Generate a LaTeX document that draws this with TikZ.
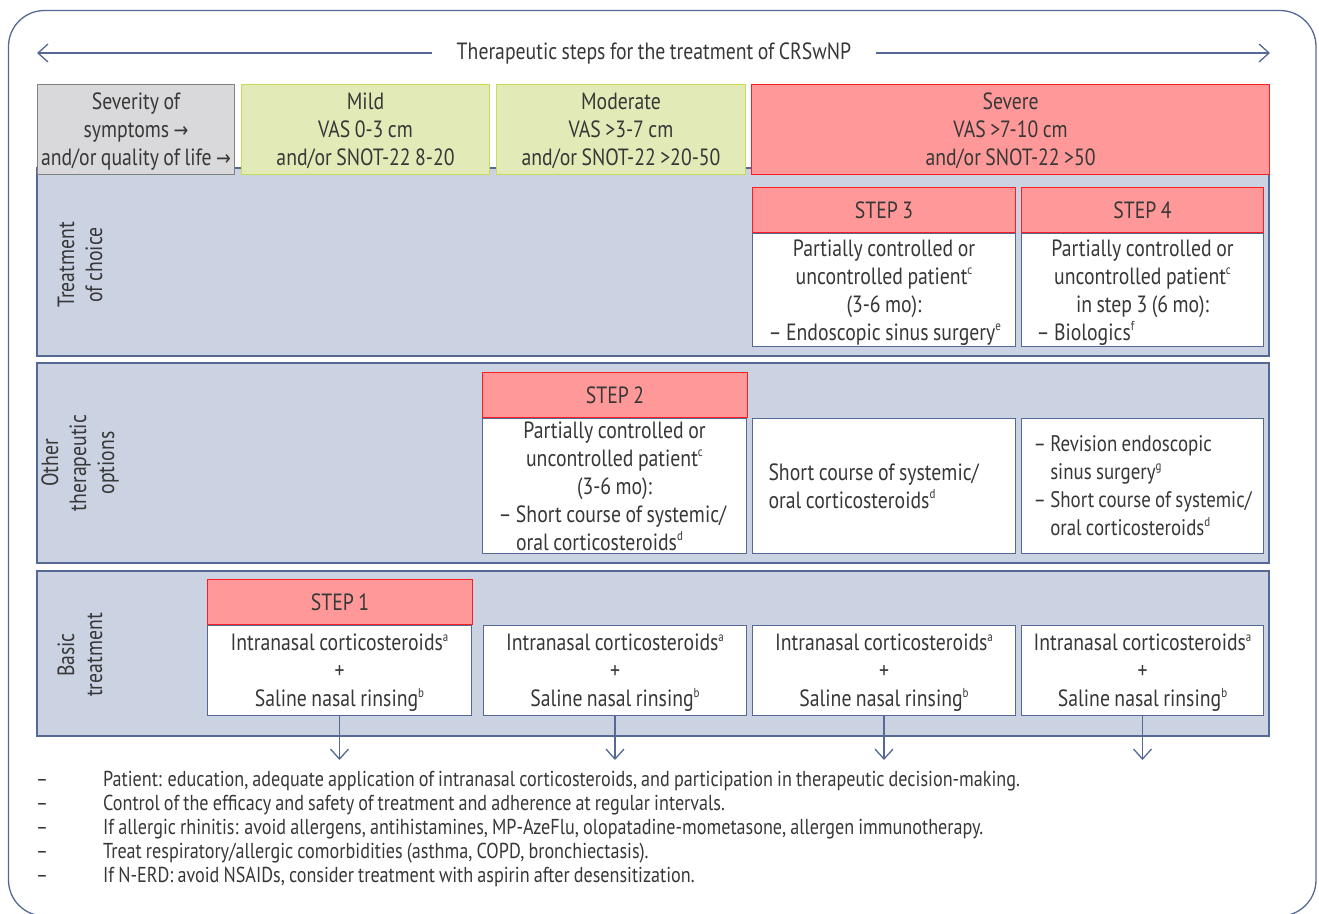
\documentclass[tikz,border=0pt]{standalone}
\usepackage{fontspec}
\setmainfont{PT Sans}[FakeStretch=0.84, WordSpace=0.85]
\newfontfamily\symfont{DejaVu Sans}[FakeStretch=0.84]
\usetikzlibrary{arrows.meta}

\definecolor{frameblue}{RGB}{86,105,148}
\definecolor{panelblue}{RGB}{203,210,225}
\definecolor{sevgray}{RGB}{217,217,219}
\definecolor{sevline}{RGB}{128,128,128}
\definecolor{mildfill}{RGB}{226,235,183}
\definecolor{mildline}{RGB}{200,220,90}
\definecolor{stepfill}{RGB}{255,153,153}
\definecolor{stepline}{RGB}{250,30,35}
\definecolor{txtgray}{RGB}{55,55,55}

\newcommand{\sps}[1]{\raisebox{.8ex}{\fontsize{13}{13}\selectfont #1}}
\newcommand{\rarr}{{\symfont\fontsize{21}{21}\selectfont →}}

\tikzset{
  base/.style={font=\fontsize{23.5}{28}\selectfont, text=txtgray},
  panel/.style={draw=frameblue, fill=panelblue, line width=1.2pt},
  hbox/.style={base, anchor=north west, inner sep=0pt, align=center, line width=1pt, text depth=0pt},
  stephead/.style={base, anchor=north west, inner sep=0pt, draw=stepline, fill=stepfill,
    line width=1.2pt, minimum height=45pt},
  bodybox/.style={base, anchor=north west, inner sep=0pt, draw=frameblue, fill=white,
    line width=1pt, text depth=0pt},
  arr/.style={draw=frameblue, line width=1.3pt, -{Straight Barb[length=10pt,width=18pt]}},
}

\begin{document}
\begin{tikzpicture}[x=1pt,y=-1pt]
  \useasboundingbox (0,0) rectangle (1319,913);
  % frame and title
  \draw[frameblue, line width=1.3pt, rounded corners=36pt] (8.5,10.5) rectangle (1316,916);
  \node[base, inner xsep=25pt] (title) at (654,53) {Therapeutic steps for the treatment of CRSwNP};
  \coordinate (tl) at (37,53);
  \coordinate (tr) at (1270,53);
  \draw[arr] (title.west) -- (tl);
  \draw[arr] (title.east) -- (tr);

  % the three bands
  \draw[panel] (37,168) rectangle (1269,356);
  \draw[panel] (37,363) rectangle (1269,563);
  \draw[panel] (37,571) rectangle (1269,736);
  \node[base, rotate=90, align=center] (choice) at (80,265) {Treatment\\of choice};
  \node[base, rotate=90, align=center] (other) at (80,463) {Other\\therapeutic\\options};
  \node[base, rotate=90, align=center] (basic) at (80,655) {Basic\\treatment};

  % severity row
  \node[hbox, draw=sevline, fill=sevgray, minimum width=197pt, minimum height=90pt] (sev) at (37,84)
    {Severity of\\symptoms \rarr\\and/or quality of life \rarr};
  \node[hbox, draw=mildline, fill=mildfill, minimum width=248pt, minimum height=90pt] (mild) at (241,84)
    {Mild\\VAS 0-3 cm\\and/or SNOT-22 8-20};
  \node[hbox, draw=mildline, fill=mildfill, minimum width=249pt, minimum height=90pt] (moderate) at (496,84)
    {Moderate\\VAS >3-7 cm\\and/or SNOT-22 >20-50};
  \node[hbox, draw=stepline, fill=stepfill, line width=1.2pt, minimum width=518pt, minimum height=90pt] (severe) at (751,84)
    {Severe\\VAS >7-10 cm\\and/or SNOT-22 >50};

  % treatment of choice
  \node[stephead, minimum width=263pt] (s3head) at (752,187) {STEP 3};
  \node[stephead, minimum width=242pt] (s4head) at (1021,187) {STEP 4};
  \node[bodybox, minimum width=263pt, minimum height=113pt, align=center] (s3body) at (752,233)
    {Partially controlled or\\uncontrolled patient\sps{c}\\(3-6 mo):\\
     \makebox[231pt][l]{-- Endoscopic sinus surgery\sps{e}}};
  \node[bodybox, minimum width=242pt, minimum height=113pt, align=center] (s4body) at (1021,233)
    {Partially controlled or\\uncontrolled patient\sps{c}\\in step 3 (6 mo):\\
     \makebox[212pt][l]{-- Biologics\sps{f}}};

  % other options
  \node[stephead, minimum width=265pt] (s2head) at (482,372) {STEP 2};
  \node[bodybox, minimum width=264pt, minimum height=135pt, align=center] (s2body) at (482,418)
    {Partially controlled or\\uncontrolled patient\sps{c}\\(3-6 mo):\\
     \makebox[232pt][l]{-- Short course of systemic/}\\
     \makebox[232pt][l]{\phantom{-- }oral corticosteroids\sps{d}}};
  \node[bodybox, minimum width=263pt, minimum height=135pt, align=left] (o3) at (752,418)
    {\makebox[231pt][l]{Short course of systemic/}\\oral corticosteroids\sps{d}};
  \node[bodybox, minimum width=242pt, minimum height=135pt, align=left, font=\fontsize{22.5}{28}\selectfont] (o4) at (1021,418)
    {-- Revision endoscopic\\\phantom{-- }sinus surgery\sps{g}\\
     -- Short course of systemic/\\\phantom{-- }oral corticosteroids\sps{d}};

  % basic treatment
  \node[stephead, minimum width=265pt] (s1head) at (207,579) {STEP 1};
  \node[bodybox, minimum width=264pt, minimum height=90pt, align=center] (b1) at (207,625)
    {Intranasal corticosteroids\sps{a}\\+\\Saline nasal rinsing\sps{b}};
  \node[bodybox, minimum width=263pt, minimum height=90pt, align=center] (b2) at (483,625)
    {Intranasal corticosteroids\sps{a}\\+\\Saline nasal rinsing\sps{b}};
  \node[bodybox, minimum width=263pt, minimum height=90pt, align=center] (b3) at (752,625)
    {Intranasal corticosteroids\sps{a}\\+\\Saline nasal rinsing\sps{b}};
  \node[bodybox, minimum width=242pt, minimum height=90pt, align=center] (b4) at (1021,625)
    {Intranasal corticosteroids\sps{a}\\+\\Saline nasal rinsing\sps{b}};

  \coordinate (tips) at (0,760);
  \foreach \b in {b1,b2,b3,b4}
    \draw[arr] (\b.south) -- (\b.south |- tips);

  % general notes
  \node[anchor=north west, inner sep=0pt, text=txtgray, font=\fontsize{21.6}{24}\selectfont] (notes) at (36,769)
    {\begin{tabular}{@{}l@{\hspace{55pt}}l@{}}
      -- & Patient: education, adequate application of intranasal corticosteroids, and participation in therapeutic decision-making.\\
      -- & Control of the efficacy and safety of treatment and adherence at regular intervals.\\
      -- & If allergic rhinitis: avoid allergens, antihistamines, MP-AzeFlu, olopatadine-mometasone, allergen immunotherapy.\\
      -- & Treat respiratory/allergic comorbidities (asthma, COPD, bronchiectasis).\\
      -- & If N-ERD: avoid NSAIDs, consider treatment with aspirin after desensitization.
    \end{tabular}};
\end{tikzpicture}
\end{document}
